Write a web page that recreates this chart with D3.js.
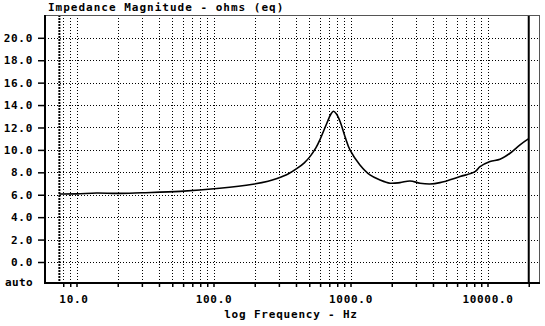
<!DOCTYPE html>
<html>
<head>
<meta charset="utf-8">
<script src="https://cdn.jsdelivr.net/npm/d3@7"></script>
<style>
  html, body { margin: 0; padding: 0; background: #fff; }
  svg { display: block; }
  text { font-family: "DejaVu Sans Mono", "Liberation Mono", monospace; font-weight: bold; fill: #000; }
</style>
</head>
<body>
<script>
// ---- data ----
const title = "Impedance Magnitude - ohms (eq)";
const xLabel = "log Frequency - Hz";
const freqs = [7.5, 10, 14, 20, 30, 57, 111, 194, 250, 291, 350, 407, 460, 506, 560, 598, 673, 720, 750, 790, 838, 911, 991, 1172, 1387, 1641, 1942, 2298, 2719, 3217, 3806, 4500, 6300, 8110, 8820, 10430, 12340, 14600, 17270, 20000];
const impedance = [6.07, 6.08, 6.15, 6.12, 6.18, 6.3, 6.58, 6.94, 7.2, 7.45, 7.85, 8.35, 8.85, 9.4, 10.2, 10.9, 12.4, 13.2, 13.45, 13.2, 12.55, 11.2, 10.0, 8.66, 7.77, 7.32, 7.03, 7.08, 7.23, 7.03, 6.96, 7.08, 7.62, 8.06, 8.5, 8.96, 9.17, 9.7, 10.45, 11.0];
const yTicks = [0, 2, 4, 6, 8, 10, 12, 14, 16, 18, 20];
const xLabelTicks = [10, 100, 1000, 10000];
const xGridTicks = [8, 9, 10, 20, 30, 40, 50, 60, 70, 80, 90, 100, 200, 300, 400, 500, 600, 700, 800, 900, 1000, 2000, 3000, 4000, 5000, 6000, 7000, 8000, 9000, 10000];
const markerFreqs = [7.5, 20000];

// ---- layout ----
const W = 545, H = 326;
const L = 45, R = 540, T = 15, B = 283;

const svg = d3.select("body").append("svg").attr("width", W).attr("height", H);

// log x scale: 10 Hz at 76.5 px, 137 px per decade
const decade = 137, x10 = 76.5;
const x = d3.scaleLog()
  .domain([Math.pow(10, 1 - (x10 - L) / decade), Math.pow(10, 1 + (R - x10) / decade)])
  .range([L, R]);
const y = d3.scaleLinear().domain([0, 20]).range([262, 37.8]);

// gridlines
const grid = svg.append("g");
grid.selectAll("line.h").data(yTicks).join("line")
  .attr("x1", L).attr("x2", R)
  .attr("y1", d => Math.round(y(d)) + 0.5).attr("y2", d => Math.round(y(d)) + 0.5)
  .attr("stroke", "#000").attr("stroke-width", 1).attr("stroke-dasharray", "1,2");
grid.selectAll("line.v").data(xGridTicks).join("line")
  .attr("x1", d => Math.round(x(d)) + 0.5).attr("x2", d => Math.round(x(d)) + 0.5)
  .attr("y1", T).attr("y2", B)
  .attr("stroke", "#000").attr("stroke-width", 1).attr("stroke-dasharray", "1,2");

// marker lines (left dotted bold, right solid)
svg.append("line")
  .attr("x1", x(markerFreqs[0])).attr("x2", x(markerFreqs[0]))
  .attr("y1", T).attr("y2", B)
  .attr("stroke", "#000").attr("stroke-width", 2).attr("stroke-dasharray", "2,1");
svg.append("line")
  .attr("x1", x(markerFreqs[1])).attr("x2", x(markerFreqs[1]))
  .attr("y1", T).attr("y2", B)
  .attr("stroke", "#000").attr("stroke-width", 2);

// frame
svg.append("line").attr("x1", L).attr("x2", R).attr("y1", T + 0.5).attr("y2", T + 0.5)
  .attr("stroke", "#555").attr("stroke-width", 1);
svg.append("line").attr("x1", R - 0.5).attr("x2", R - 0.5).attr("y1", T).attr("y2", B)
  .attr("stroke", "#555").attr("stroke-width", 1);

// y axis
const yAxis = d3.axisLeft(y).tickValues(yTicks).tickFormat(d3.format(".1f"))
  .tickSize(7).tickPadding(5);
const gy = svg.append("g").attr("transform", `translate(${L},0)`).call(yAxis);
gy.select(".domain").remove();
gy.selectAll(".tick line").attr("stroke", "#000").attr("stroke-width", 1.5);
gy.selectAll(".tick text").style("font-size", "11px").style("letter-spacing", "0.7px")
  .attr("font-family", null).attr("font-size", null);
svg.append("text").attr("x", 33).attr("y", 286).attr("text-anchor", "end")
  .style("font-size", "11px").style("letter-spacing", "0.4px").text("auto");

// x axis
const xAxis = d3.axisBottom(x).tickValues(xGridTicks.concat([markerFreqs[1]]))
  .tickFormat(d => xLabelTicks.includes(d) ? d3.format(".1f")(d) : "")
  .tickSize(4).tickPadding(8);
const gx = svg.append("g").attr("transform", `translate(0,${B})`).call(xAxis);
gx.select(".domain").remove();
gx.selectAll(".tick line").attr("stroke", "#000").attr("stroke-width", 1.5);
gx.selectAll(".tick text").style("font-size", "11px").style("letter-spacing", "0.7px")
  .attr("font-family", null).attr("font-size", null)
  .attr("dx", d => d === 10 ? -3 : 0);

// axis lines
svg.append("line").attr("x1", L).attr("x2", L).attr("y1", T).attr("y2", B + 1)
  .attr("stroke", "#000").attr("stroke-width", 2);
svg.append("line").attr("x1", L).attr("x2", R).attr("y1", B).attr("y2", B)
  .attr("stroke", "#000").attr("stroke-width", 2);

// curve
const line = d3.line().x((d, i) => x(freqs[i])).y(d => y(d)).curve(d3.curveCatmullRom.alpha(0.5));
svg.append("path").datum(impedance).attr("d", line)
  .attr("fill", "none").attr("stroke", "#000").attr("stroke-width", 1.6);

// titles
svg.append("text").attr("x", 48).attr("y", 11)
  .style("font-size", "11px").style("letter-spacing", "1px").text(title);
svg.append("text").attr("x", 291).attr("y", 318).attr("text-anchor", "middle")
  .style("font-size", "11px").style("letter-spacing", "0.8px").text(xLabel);
</script>
</body>
</html>
